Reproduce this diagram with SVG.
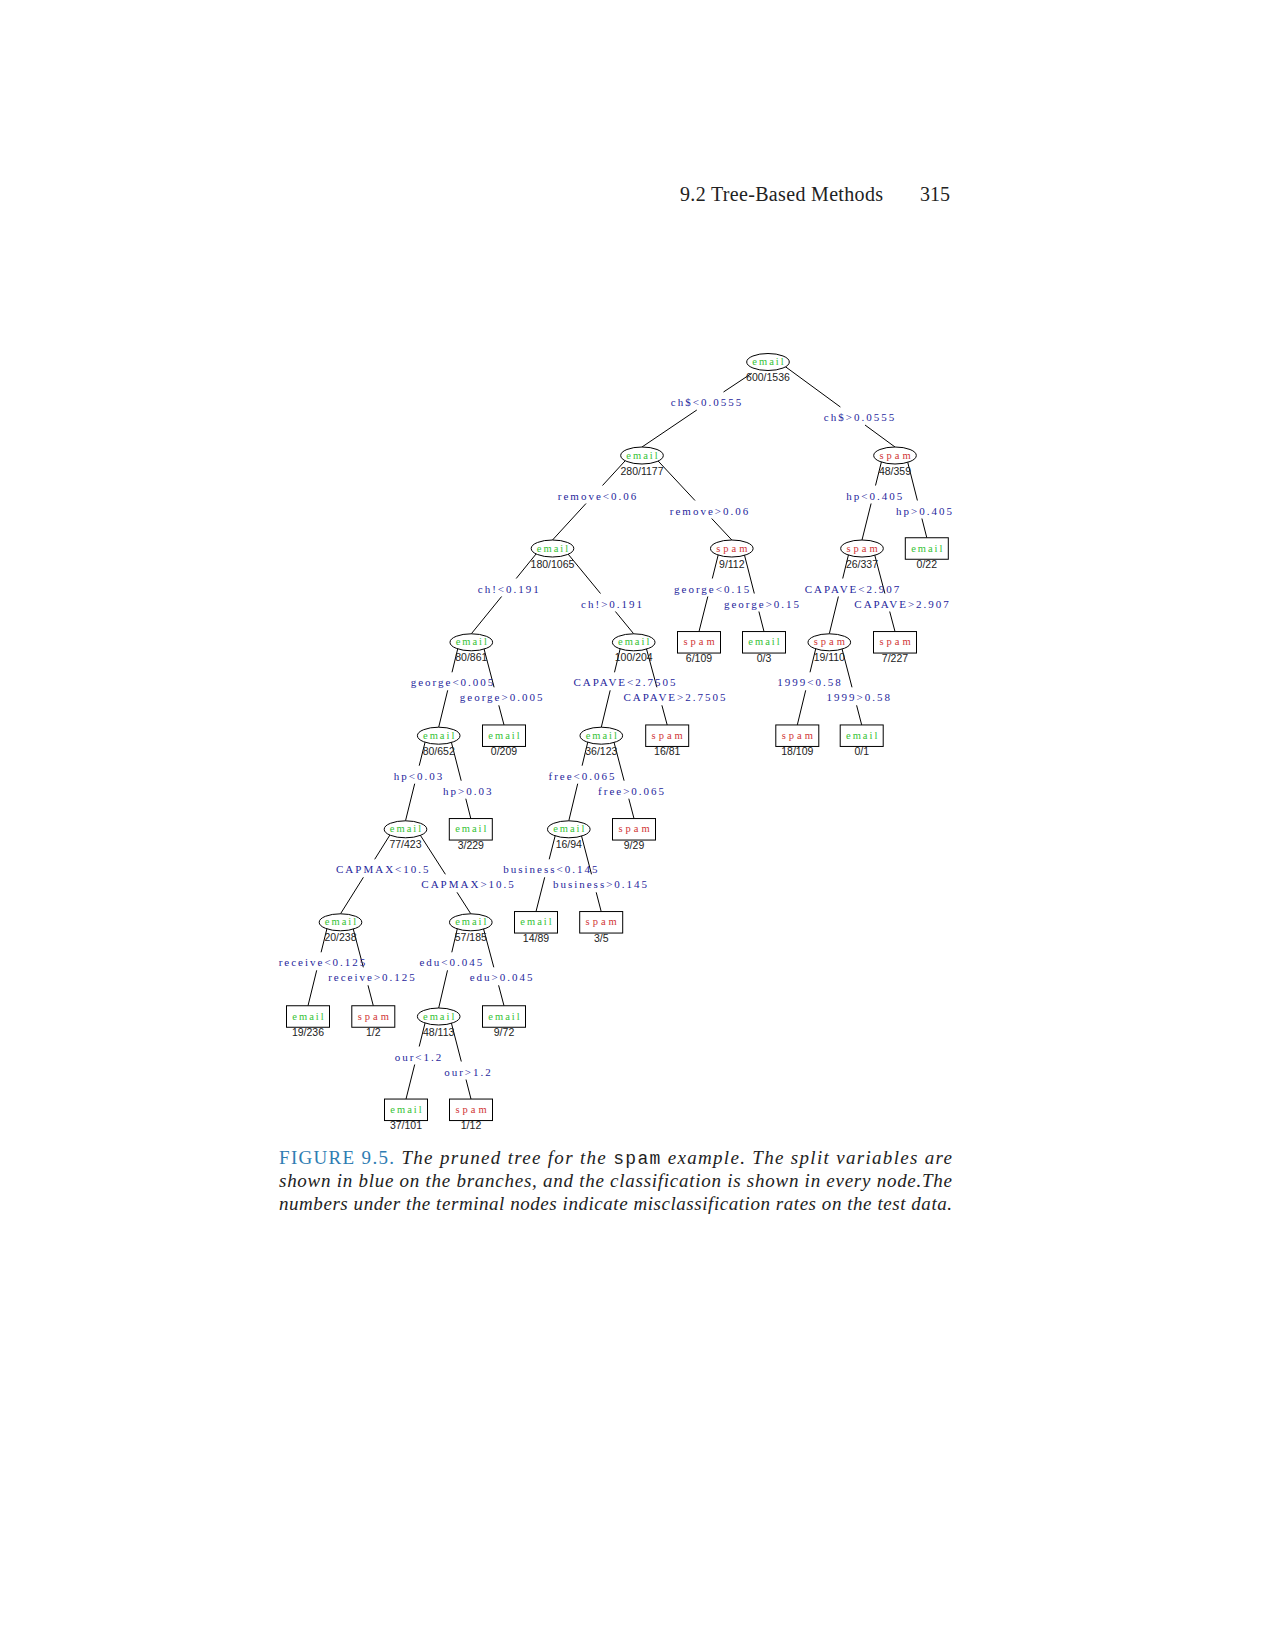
<svg xmlns="http://www.w3.org/2000/svg" width="1275" height="1650" viewBox="0 0 1275 1650">
<style>
.bg{fill:#fff}
.oval{fill:#fff;stroke:#000;stroke-width:1}
.box{fill:#fff;stroke:#000;stroke-width:1}
.em{font-family:"Liberation Serif",serif;font-size:10.5px;letter-spacing:2px;fill:#34c234;text-anchor:middle}
.sp{font-family:"Liberation Serif",serif;font-size:10.5px;letter-spacing:3px;fill:#d03434;text-anchor:middle}
.num{font-family:"Liberation Sans",Arial,sans-serif;font-size:10.5px;fill:#222;text-anchor:middle}
.lab{font-family:"Liberation Serif",serif;font-size:11px;letter-spacing:2px;fill:#26269c;text-anchor:middle}
.edge{stroke:#000;stroke-width:1;fill:none}
.hdr{font-family:"Liberation Serif",serif;font-size:20px;fill:#222}
.cap{font-family:"Liberation Serif",serif;font-size:19px;font-style:italic;fill:#222}
.fig{font-style:normal;fill:#2f7db3}
.tt{font-family:"Liberation Mono",monospace;font-style:normal;font-size:18px}
</style>
<rect class="bg" x="0" y="0" width="1275" height="1650"/>
<text class="hdr" x="680" y="201" textLength="203" lengthAdjust="spacing">9.2 Tree-Based Methods</text>
<text class="hdr" x="950" y="201" text-anchor="end">315</text>
<g id="connectors" class="edge">
<path d="M751.7,373.3L723.5,392M696.8,410L642,447"/>
<path d="M779,362L840.4,407M865,425L895,447"/>
<path d="M630,455.5L602.5,485.5M586,503.5L552.5,540"/>
<path d="M653,455.5L695,500.5M711.7,518.5L731.8,540"/>
<path d="M883,455.5L875.5,485.5M871.1,503.5L862,540"/>
<path d="M906,455.5L917.4,500.5M921.9,518.5L926.8,537.75"/>
<path d="M540.5,548.5L516.2,578.5M501.6,596.5L471.3,633.8"/>
<path d="M563.5,548.5L600.5,593.5M615.4,611.5L633.7,633.8"/>
<path d="M719.8,548.5L712.3,578.5M707.8,596.5L699,631.55"/>
<path d="M742.8,548.5L754.3,593.5M758.9,611.5L764,631.55"/>
<path d="M850,548.5L842.7,578.5M838.4,596.5L829.3,633.8"/>
<path d="M873,548.5L884.9,593.5M889.7,611.5L895,631.55"/>
<path d="M459.3,642.3L452,672.3M447.7,690.3L438.7,727.2"/>
<path d="M482.3,642.3L494.1,687.3M498.8,705.3L504,724.95"/>
<path d="M621.7,642.3L614.5,672.3M610.2,690.3L601.3,727.2"/>
<path d="M644.7,642.3L656.9,687.3M661.9,705.3L667.2,724.95"/>
<path d="M817.3,642.3L810,672.3M805.7,690.3L797.3,724.95"/>
<path d="M840.3,642.3L852,687.3M856.6,705.3L861.7,724.95"/>
<path d="M426.7,735.7L419.2,765.7M414.7,783.7L405.5,820.8"/>
<path d="M449.7,735.7L461.2,780.7M465.8,798.7L470.8,818.55"/>
<path d="M589.3,735.7L582.1,765.7M577.7,783.7L568.8,820.8"/>
<path d="M612.3,735.7L624.1,780.7M628.8,798.7L634,818.55"/>
<path d="M393.5,829.3L374.7,859.3M363.4,877.3L340.5,913.8"/>
<path d="M416.5,829.3L445.4,874.3M457,892.3L470.8,913.8"/>
<path d="M556.8,829.3L549.2,859.3M544.7,877.3L536,911.55"/>
<path d="M579.8,829.3L591.5,874.3M596.2,892.3L601.2,911.55"/>
<path d="M328.5,922.3L321.1,952.3M316.7,970.3L308,1005.75"/>
<path d="M351.5,922.3L363.3,967.3M368,985.3L373.3,1005.75"/>
<path d="M458.8,922.3L451.8,952.3M447.5,970.3L438.7,1008"/>
<path d="M481.8,922.3L493.8,967.3M498.6,985.3L504,1005.75"/>
<path d="M426.7,1016.5L419.2,1046.5M414.7,1064.5L406,1099.05"/>
<path d="M449.7,1016.5L461.3,1061.5M466,1079.5L471,1099.05"/>
</g>
<g id="split-labels" class="lab">
<text x="707" y="406">ch$&lt;0.0555</text>
<text x="860" y="421">ch$&gt;0.0555</text>
<text x="598" y="499.5">remove&lt;0.06</text>
<text x="710" y="514.5">remove&gt;0.06</text>
<text x="875.3" y="499.5">hp&lt;0.405</text>
<text x="925" y="514.5">hp&gt;0.405</text>
<text x="509.3" y="592.5">ch!&lt;0.191</text>
<text x="612.6" y="607.5">ch!&gt;0.191</text>
<text x="712.6" y="592.5">george&lt;0.15</text>
<text x="762.5" y="607.5">george&gt;0.15</text>
<text x="853" y="592.5">CAPAVE&lt;2.907</text>
<text x="902.6" y="607.5">CAPAVE&gt;2.907</text>
<text x="453" y="686.3">george&lt;0.005</text>
<text x="502.1" y="701.3">george&gt;0.005</text>
<text x="625.5" y="686.3">CAPAVE&lt;2.7505</text>
<text x="675.5" y="701.3">CAPAVE&gt;2.7505</text>
<text x="810.1" y="686.3">1999&lt;0.58</text>
<text x="859.3" y="701.3">1999&gt;0.58</text>
<text x="419" y="779.7">hp&lt;0.03</text>
<text x="468.3" y="794.7">hp&gt;0.03</text>
<text x="582.5" y="779.7">free&lt;0.065</text>
<text x="632.1" y="794.7">free&gt;0.065</text>
<text x="383.3" y="873.3">CAPMAX&lt;10.5</text>
<text x="468.6" y="888.3">CAPMAX&gt;10.5</text>
<text x="551.3" y="873.3">business&lt;0.145</text>
<text x="601" y="888.3">business&gt;0.145</text>
<text x="323" y="966.3">receive&lt;0.125</text>
<text x="372.5" y="981.3">receive&gt;0.125</text>
<text x="451.8" y="966.3">edu&lt;0.045</text>
<text x="502.1" y="981.3">edu&gt;0.045</text>
<text x="419" y="1060.5">our&lt;1.2</text>
<text x="468.5" y="1075.5">our&gt;1.2</text>
</g>
<g id="n1"><ellipse class="oval" cx="768" cy="362" rx="21.3" ry="8.5"/><text class="em" x="769" y="365">email</text><text class="num" x="768" y="381">600/1536</text></g>
<g id="n2"><ellipse class="oval" cx="642" cy="455.5" rx="21.3" ry="8.5"/><text class="em" x="643" y="458.5">email</text><text class="num" x="642" y="474.5">280/1177</text></g>
<g id="n3"><ellipse class="oval" cx="895" cy="455.5" rx="21.3" ry="8.5"/><text class="sp" x="896.5" y="458.5">spam</text><text class="num" x="895" y="474.5">48/359</text></g>
<g id="n4"><ellipse class="oval" cx="552.5" cy="548.5" rx="21.3" ry="8.5"/><text class="em" x="553.5" y="551.5">email</text><text class="num" x="552.5" y="567.5">180/1065</text></g>
<g id="n5"><ellipse class="oval" cx="731.8" cy="548.5" rx="21.3" ry="8.5"/><text class="sp" x="733.3" y="551.5">spam</text><text class="num" x="731.8" y="567.5">9/112</text></g>
<g id="n6"><ellipse class="oval" cx="862" cy="548.5" rx="21.3" ry="8.5"/><text class="sp" x="863.5" y="551.5">spam</text><text class="num" x="862" y="567.5">26/337</text></g>
<g id="n7"><rect class="box" x="905.3" y="537.75" width="43" height="21.5"/><text class="em" x="927.8" y="551.5">email</text><text class="num" x="926.8" y="568">0/22</text></g>
<g id="n8"><ellipse class="oval" cx="471.3" cy="642.3" rx="21.3" ry="8.5"/><text class="em" x="472.3" y="645.3">email</text><text class="num" x="471.3" y="661.3">80/861</text></g>
<g id="n9"><ellipse class="oval" cx="633.7" cy="642.3" rx="21.3" ry="8.5"/><text class="em" x="634.7" y="645.3">email</text><text class="num" x="633.7" y="661.3">100/204</text></g>
<g id="n10"><rect class="box" x="677.5" y="631.55" width="43" height="21.5"/><text class="sp" x="700.5" y="645.3">spam</text><text class="num" x="699" y="661.8">6/109</text></g>
<g id="n11"><rect class="box" x="742.5" y="631.55" width="43" height="21.5"/><text class="em" x="765" y="645.3">email</text><text class="num" x="764" y="661.8">0/3</text></g>
<g id="n12"><ellipse class="oval" cx="829.3" cy="642.3" rx="21.3" ry="8.5"/><text class="sp" x="830.8" y="645.3">spam</text><text class="num" x="829.3" y="661.3">19/110</text></g>
<g id="n13"><rect class="box" x="873.5" y="631.55" width="43" height="21.5"/><text class="sp" x="896.5" y="645.3">spam</text><text class="num" x="895" y="661.8">7/227</text></g>
<g id="n14"><ellipse class="oval" cx="438.7" cy="735.7" rx="21.3" ry="8.5"/><text class="em" x="439.7" y="738.7">email</text><text class="num" x="438.7" y="754.7">80/652</text></g>
<g id="n15"><rect class="box" x="482.5" y="724.95" width="43" height="21.5"/><text class="em" x="505" y="738.7">email</text><text class="num" x="504" y="755.2">0/209</text></g>
<g id="n16"><ellipse class="oval" cx="601.3" cy="735.7" rx="21.3" ry="8.5"/><text class="em" x="602.3" y="738.7">email</text><text class="num" x="601.3" y="754.7">36/123</text></g>
<g id="n17"><rect class="box" x="645.7" y="724.95" width="43" height="21.5"/><text class="sp" x="668.7" y="738.7">spam</text><text class="num" x="667.2" y="755.2">16/81</text></g>
<g id="n18"><rect class="box" x="775.8" y="724.95" width="43" height="21.5"/><text class="sp" x="798.8" y="738.7">spam</text><text class="num" x="797.3" y="755.2">18/109</text></g>
<g id="n19"><rect class="box" x="840.2" y="724.95" width="43" height="21.5"/><text class="em" x="862.7" y="738.7">email</text><text class="num" x="861.7" y="755.2">0/1</text></g>
<g id="n20"><ellipse class="oval" cx="405.5" cy="829.3" rx="21.3" ry="8.5"/><text class="em" x="406.5" y="832.3">email</text><text class="num" x="405.5" y="848.3">77/423</text></g>
<g id="n21"><rect class="box" x="449.3" y="818.55" width="43" height="21.5"/><text class="em" x="471.8" y="832.3">email</text><text class="num" x="470.8" y="848.8">3/229</text></g>
<g id="n22"><ellipse class="oval" cx="568.8" cy="829.3" rx="21.3" ry="8.5"/><text class="em" x="569.8" y="832.3">email</text><text class="num" x="568.8" y="848.3">16/94</text></g>
<g id="n23"><rect class="box" x="612.5" y="818.55" width="43" height="21.5"/><text class="sp" x="635.5" y="832.3">spam</text><text class="num" x="634" y="848.8">9/29</text></g>
<g id="n24"><ellipse class="oval" cx="340.5" cy="922.3" rx="21.3" ry="8.5"/><text class="em" x="341.5" y="925.3">email</text><text class="num" x="340.5" y="941.3">20/238</text></g>
<g id="n25"><ellipse class="oval" cx="470.8" cy="922.3" rx="21.3" ry="8.5"/><text class="em" x="471.8" y="925.3">email</text><text class="num" x="470.8" y="941.3">57/185</text></g>
<g id="n26"><rect class="box" x="514.5" y="911.55" width="43" height="21.5"/><text class="em" x="537" y="925.3">email</text><text class="num" x="536" y="941.8">14/89</text></g>
<g id="n27"><rect class="box" x="579.7" y="911.55" width="43" height="21.5"/><text class="sp" x="602.7" y="925.3">spam</text><text class="num" x="601.2" y="941.8">3/5</text></g>
<g id="n28"><rect class="box" x="286.5" y="1005.75" width="43" height="21.5"/><text class="em" x="309" y="1019.5">email</text><text class="num" x="308" y="1036">19/236</text></g>
<g id="n29"><rect class="box" x="351.8" y="1005.75" width="43" height="21.5"/><text class="sp" x="374.8" y="1019.5">spam</text><text class="num" x="373.3" y="1036">1/2</text></g>
<g id="n30"><ellipse class="oval" cx="438.7" cy="1016.5" rx="21.3" ry="8.5"/><text class="em" x="439.7" y="1019.5">email</text><text class="num" x="438.7" y="1035.5">48/113</text></g>
<g id="n31"><rect class="box" x="482.5" y="1005.75" width="43" height="21.5"/><text class="em" x="505" y="1019.5">email</text><text class="num" x="504" y="1036">9/72</text></g>
<g id="n32"><rect class="box" x="384.5" y="1099.05" width="43" height="21.5"/><text class="em" x="407" y="1112.8">email</text><text class="num" x="406" y="1129.3">37/101</text></g>
<g id="n33"><rect class="box" x="449.5" y="1099.05" width="43" height="21.5"/><text class="sp" x="472.5" y="1112.8">spam</text><text class="num" x="471" y="1129.3">1/12</text></g>
<g id="caption" class="cap">
<text x="279" y="1164" textLength="673" lengthAdjust="spacing"><tspan class="fig">FIGURE 9.5.</tspan> The pruned tree for the <tspan class="tt">spam</tspan> example. The split variables are</text>
<text x="279" y="1187" textLength="673" lengthAdjust="spacing">shown in blue on the branches, and the classification is shown in every node.The</text>
<text x="279" y="1210" textLength="673" lengthAdjust="spacing">numbers under the terminal nodes indicate misclassification rates on the test data.</text>
</g>
</svg>
